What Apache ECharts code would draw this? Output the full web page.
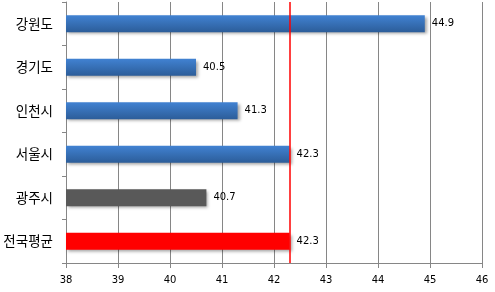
<!DOCTYPE html>
<html>
<head>
<meta charset="utf-8">
<script src="https://cdn.jsdelivr.net/npm/echarts@6/dist/echarts.min.js"></script>
<style>
html, body { margin: 0; padding: 0; background: #fff; }
#chart { width: 495px; height: 292px; }
</style>
</head>
<body>
<div id="chart"></div>
<script>
const regions = ['강원도', '경기도', '인천시', '서울시', '광주시', '전국평균'];
const values = [44.9, 40.5, 41.3, 42.3, 40.7, 42.3];
const avgLine = 42.3;
const xTicks = { min: 38, max: 46, step: 1 };

const blue = new echarts.graphic.LinearGradient(0, 0, 0, 1, [
  { offset: 0, color: '#4182d2' },
  { offset: 1, color: '#2c5d99' }
]);
// colour per bar: last two are special
const barColors = [blue, blue, blue, blue, '#595959', '#ff0000'];

const chart = echarts.init(document.getElementById('chart'));
chart.setOption({
  animation: false,
  grid: { left: 66, right: 13, top: 2, bottom: 29 },
  xAxis: {
    type: 'value',
    min: xTicks.min,
    max: xTicks.max,
    interval: xTicks.step,
    axisLine: { show: true, lineStyle: { color: '#868686' } },
    axisTick: { show: true, length: 5, lineStyle: { color: '#868686' } },
    splitLine: { show: true, lineStyle: { color: '#868686' } },
    axisLabel: { color: '#000', fontSize: 10, fontFamily: 'DejaVu Sans', margin: 12 }
  },
  yAxis: {
    type: 'category',
    data: regions,
    inverse: true,
    axisLine: { show: true, lineStyle: { color: '#868686' } },
    axisTick: { show: true, length: 4, lineStyle: { color: '#868686' } },
    axisLabel: { color: '#000', fontSize: 13.5, fontFamily: 'Noto Sans CJK KR', margin: 13 }
  },
  series: [{
    type: 'bar',
    barWidth: 17,
    data: values.map((v, i) => ({
      value: v,
      itemStyle: { color: barColors[i] }
    })),
    itemStyle: {
      shadowBlur: 3,
      shadowOffsetX: 2,
      shadowOffsetY: 2,
      shadowColor: 'rgba(0,0,0,0.35)'
    },
    label: {
      show: true,
      position: 'right',
      distance: 7,
      color: '#000',
      fontSize: 10,
      fontFamily: 'DejaVu Sans'
    },
    markLine: {
      silent: true,
      z: 10,
      symbol: ['none', 'none'],
      label: { show: false },
      lineStyle: {
        color: '#ff0000', width: 1.5, type: 'solid', opacity: 1,
        shadowBlur: 0, shadowColor: 'transparent'
      },
      data: [{ xAxis: avgLine }]
    }
  }]
});
</script>
</body>
</html>
